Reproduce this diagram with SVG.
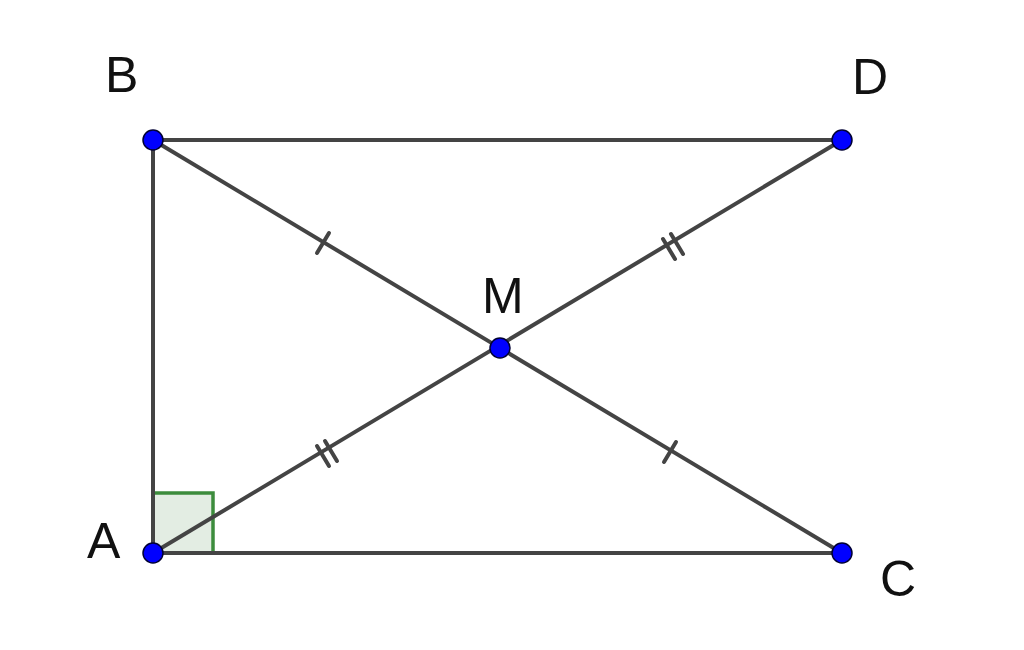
<svg xmlns="http://www.w3.org/2000/svg" width="1024" height="650" viewBox="0 0 1024 650">
<style>
.l{stroke:#444;stroke-width:4;fill:none;stroke-linecap:round}
.p{fill:#0000ff;stroke:#000033;stroke-width:1.5}
.t{font-family:"Liberation Sans",Arial,sans-serif;font-size:50px;fill:#111}
</style>
<rect width="1024" height="650" fill="#fff"/>
<g id="rightangle"><rect x="153" y="493" width="60" height="60" fill="#e3ede3" stroke="#3c8c3c" stroke-width="3.5"/></g>
<g id="connectors">
<line class="l" x1="153" y1="140" x2="842" y2="140"/>
<line class="l" x1="153" y1="553" x2="842" y2="553"/>
<line class="l" x1="153" y1="140" x2="153" y2="553"/>
<line class="l" x1="153" y1="140" x2="842" y2="553"/>
<line class="l" x1="153" y1="553" x2="842" y2="140"/>
<line class="l" x1="317" y1="253" x2="329" y2="233"/>
<line class="l" x1="664" y1="462" x2="676" y2="442"/>
<line class="l" x1="317" y1="446" x2="329" y2="466"/>
<line class="l" x1="325" y1="441" x2="337" y2="461"/>
<line class="l" x1="663" y1="239" x2="675" y2="259"/>
<line class="l" x1="671" y1="234" x2="683" y2="254"/>
</g>
<g id="B"><circle class="p" cx="153" cy="140" r="10"/><text class="t" x="105" y="92">B</text></g>
<g id="D"><circle class="p" cx="842" cy="140" r="10"/><text class="t" x="852" y="94">D</text></g>
<g id="M"><circle class="p" cx="500" cy="348" r="10"/><text class="t" x="482" y="313">M</text></g>
<g id="A"><circle class="p" cx="153" cy="553" r="10"/><text class="t" x="87" y="558">A</text></g>
<g id="C"><circle class="p" cx="842" cy="553" r="10"/><text class="t" x="880" y="596">C</text></g>
</svg>
